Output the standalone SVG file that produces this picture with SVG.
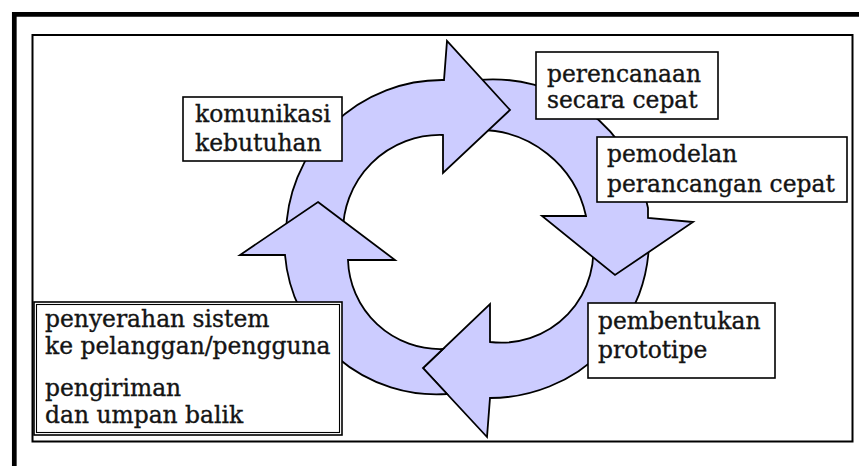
<svg xmlns="http://www.w3.org/2000/svg" width="859" height="466" viewBox="0 0 859 466">
<style>
  .arrow { fill: #ccccff; stroke: #000; stroke-width: 1.8; stroke-linejoin: miter; }
  .box { fill: #fff; stroke: #000; stroke-width: 1.6; }
  .box2 { fill: none; stroke: #000; stroke-width: 1.1; }
  .lbl { font-family: "DejaVu Serif", "Liberation Serif", serif; font-size: 23.4px; fill: #141414; stroke: #141414; stroke-width: 0.35; }
</style>
<rect x="0" y="0" width="859" height="466" fill="#fff"/>
<g id="frame">
  <path d="M14.3,466 V14.3 H859" fill="none" stroke="#000" stroke-width="4.7"/>
  <rect x="32.5" y="35" width="820" height="406.5" fill="none" stroke="#000" stroke-width="2"/>
</g>
<g id="connectors">
  <path id="arrow-bottom" class="arrow" d="M649,235 A159,159 0 0 1 490,398 L487,437 L423,368 L490,304 L490,342 A92,92 0 0 0 592,235 Z"/>
  <path id="arrow-right" class="arrow" d="M478,80 A158,158 0 0 1 648,208 L648,218 L693,222 L615,275 L542,216 L586,216 A109,109 0 0 0 478,130 Z"/>
  <path id="arrow-top" class="arrow" d="M286,235 A156,156 0 0 1 444,80 L447,41 L510,110 L443,173 L443,135 A97,97 0 0 0 343,235 Z"/>
  <path id="arrow-left" class="arrow" d="M318,202 L395,260 L348,260 A92,92 0 0 0 443,349 L423,368 L447,394 A152,152 0 0 1 285,255 L240,255 Z"/>
</g>
<g id="node-komunikasi">
  <rect class="box" x="183" y="97" width="159" height="64"/>
  <text class="lbl" x="195" y="122">komunikasi</text>
  <text class="lbl" x="195" y="151">kebutuhan</text>
</g>
<g id="node-perencanaan">
  <rect class="box" x="536" y="52" width="182" height="67"/>
  <text class="lbl" x="547" y="82">perencanaan</text>
  <text class="lbl" x="547" y="108">secara cepat</text>
</g>
<g id="node-pemodelan">
  <rect class="box" x="597" y="137" width="250" height="65"/>
  <text class="lbl" x="607" y="162">pemodelan</text>
  <text class="lbl" x="607" y="192">perancangan cepat</text>
</g>
<g id="node-pembentukan">
  <rect class="box" x="588" y="303" width="187" height="75"/>
  <text class="lbl" x="598" y="329">pembentukan</text>
  <text class="lbl" x="598" y="358">prototipe</text>
</g>
<g id="node-penyerahan">
  <rect class="box" x="34" y="302" width="308" height="133" stroke-width="1.1"/>
  <rect class="box2" x="36.5" y="304.5" width="303" height="128"/>
  <text class="lbl" x="45" y="327">penyerahan sistem</text>
  <text class="lbl" x="45" y="354">ke pelanggan/pengguna</text>
  <text class="lbl" x="45" y="396">pengiriman</text>
  <text class="lbl" x="45" y="423">dan umpan balik</text>
</g>
</svg>
